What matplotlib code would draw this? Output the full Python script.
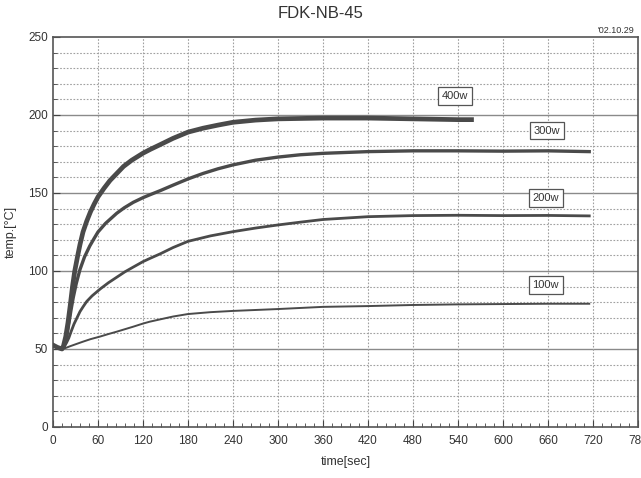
import matplotlib
matplotlib.use("Agg")
import matplotlib.pyplot as plt
from matplotlib.ticker import MultipleLocator

plt.rcParams['font.family'] = ['Liberation Sans', 'DejaVu Sans']

# values
t_400 = [0, 6, 12, 14, 17, 20, 23, 26, 29, 33, 36, 40, 45, 50, 55, 60, 68, 76, 85, 94, 105,
         120, 130, 143, 160, 180, 200, 220, 240, 270, 300, 360, 420, 480, 540, 558]
temp_400 = [52.5, 51, 50, 52, 58, 67, 78, 90, 100, 110, 117, 125, 132, 138, 143, 147.5, 153, 158, 162.5, 167, 171,
            175.5, 178, 181, 185, 189, 191.5, 193.5, 195.3, 196.7, 197.5, 198, 198, 197.5, 197, 197]

t_300 = [0, 6, 12, 15, 18, 21, 24, 27, 31, 36, 42, 49, 55, 60, 70, 85, 95, 107, 120, 130, 143,
         160, 180, 200, 220, 240, 270, 300, 330, 360, 420, 480, 540, 600, 660, 715]
temp_300 = [52.5, 51, 50, 52, 57, 66, 75, 83, 92, 101, 109, 116, 121, 125, 130.5, 137, 140.5, 144, 147, 149, 151.5,
            155, 159, 162.5, 165.5, 168, 171, 173, 174.5, 175.4, 176.5, 177, 177, 176.8, 177, 176.5]

t_200 = [0, 6, 12, 15, 18, 21, 24, 28, 32, 36, 40, 45, 52, 63, 74, 85, 96, 107, 120, 129, 143,
         160, 180, 210, 240, 270, 300, 330, 360, 420, 480, 540, 600, 660, 715]
temp_200 = [52.5, 51, 50, 51.5, 54, 57, 61, 66, 70, 74, 77, 80.5, 84, 88.5, 92.5, 96, 99.5, 102.5, 106, 108, 111,
            115, 119, 122.5, 125.2, 127.5, 129.5, 131.3, 133, 134.8, 135.5, 135.7, 135.5, 135.6, 135.3]

t_100 = [0, 6, 12, 16, 23, 30, 40, 50, 63, 74, 85, 96, 107, 120, 129, 143, 160, 180, 210, 240,
         270, 300, 360, 420, 480, 540, 600, 660, 715]
temp_100 = [52.5, 51, 50, 50.5, 51.8, 53, 54.7, 56.3, 58, 59.6, 61.1, 62.7, 64.3, 66.3, 67.5, 69, 70.8, 72.4, 73.6, 74.4,
            75, 75.6, 77, 77.5, 78.2, 78.6, 78.8, 79, 79]

labels = ['400w', '300w', '200w', '100w']
label_pos = [(536, 212), (659, 190), (657, 147), (657, 91)]

line_col = '#4a4a4a'

fig = plt.figure(figsize=(6.41, 4.78), dpi=100)
ax = fig.add_axes([0.0827, 0.1067, 0.9126, 0.816])

# grid
for y in range(10, 250, 10):
    if y % 50 == 0:
        ax.axhline(y, color='#8a8a8a', lw=1.0, zorder=1)
    else:
        ax.axhline(y, color='#a0a0a0', lw=0.8, ls=(0, (1.5, 1.5)), zorder=1)
for x in range(60, 780, 60):
    ax.axvline(x, color='#a0a0a0', lw=0.8, ls=(0, (1.5, 1.5)), zorder=1)

ax.plot(t_100, temp_100, color=line_col, lw=1.4, zorder=3)
ax.plot(t_200, temp_200, color=line_col, lw=2.0, zorder=3)
ax.plot(t_300, temp_300, color=line_col, lw=2.4, zorder=3)
ax.plot(t_400, temp_400, color=line_col, lw=3.4, zorder=3)

for lab, (x, y) in zip(labels, label_pos):
    ax.text(x, y, lab, ha='center', va='center', fontsize=8, color='#333333',
            bbox=dict(boxstyle='square,pad=0.35', fc='white', ec='#555555', lw=0.9), zorder=4)

ax.set_xlim(0, 780)
ax.set_ylim(0, 250)
ax.xaxis.set_major_locator(MultipleLocator(60))
ax.xaxis.set_minor_locator(MultipleLocator(12))
ax.yaxis.set_major_locator(MultipleLocator(50))
ax.yaxis.set_minor_locator(MultipleLocator(10))
ax.tick_params(which='both', direction='in', colors='#444444', labelsize=8.5, labelcolor='#333333')
ax.tick_params(which='major', length=5)
ax.tick_params(which='minor', length=3)
ax.tick_params(axis='x', pad=6)
for s in ax.spines.values():
    s.set_color('#555555')
    s.set_linewidth(1.2)

ax.set_xlabel('time[sec]', fontsize=9, color='#333333', labelpad=6)
ax.set_ylabel('temp.[°C]', fontsize=9, color='#333333', labelpad=8)
fig.text(0.5, 0.972, 'FDK-NB-45', ha='center', va='center', fontsize=12, color='#333333')
fig.text(0.99, 0.937, "'02.10.29", ha='right', va='center', fontsize=6.5, color='#333333')

fig.savefig('out.png', dpi=100)
